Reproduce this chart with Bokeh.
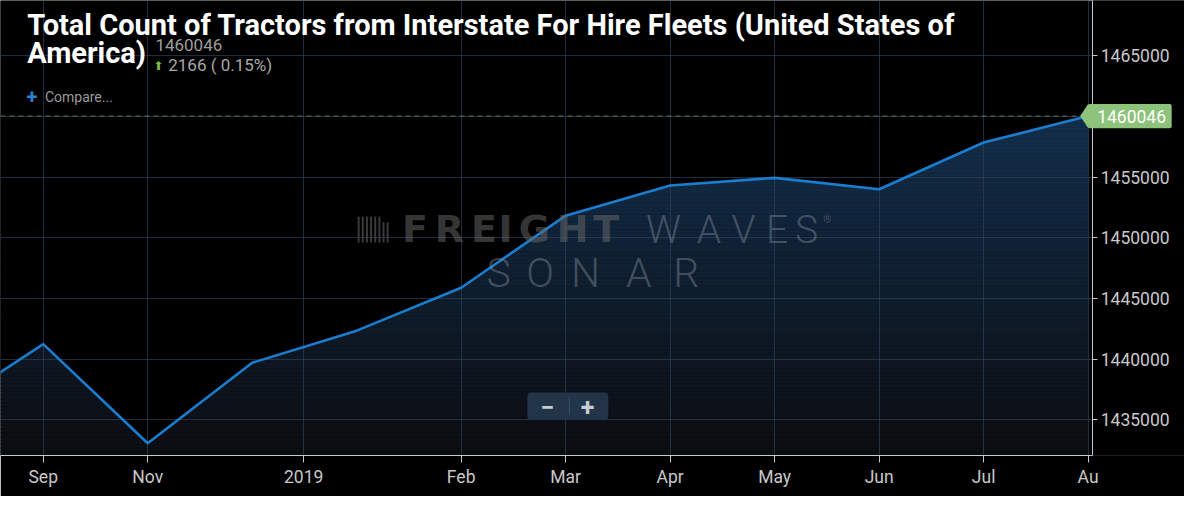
import numpy as np
from bokeh.plotting import figure
from bokeh.models import Range1d, FixedTicker, NumeralTickFormatter, Label, Span, BoxAnnotation
from bokeh.embed import file_html
from bokeh.resources import INLINE

# ---------------- data ----------------
point_pos = [-1, 0, 1, 2, 3, 4, 5, 6, 7, 8, 9, 10]
tractor_counts = [1435600, 1441250, 1433080, 1439710, 1442360, 1445900,
                  1451840, 1454330, 1454950, 1454010, 1457870, 1460046]
x_tick_pos = [0, 1, 2.493, 4, 5, 6, 7, 8, 9, 10]
x_tick_labels = ["Sep", "Nov", "2019", "Feb", "Mar", "Apr", "May", "Jun", "Jul", "Au"]
y_ticks = [1435000, 1440000, 1445000, 1450000, 1455000, 1460000, 1465000]
last_value = 1460046
change_abs = 2166
change_pct = "0.15%"
title_line1 = "Total Count of Tractors from Interstate For Hire Fleets (United States of"
title_line2 = "America)"

# ---------------- geometry (reference pixels -> figure pixels) ----------------
W, H = 1184, 496
FRAME_H = 455
SX = W / 1200.0
SY = FRAME_H / 470.0

def fx(rx):
    return rx * SX

def fy(ry):
    return (470 - ry) * SY

def ref_to_idx(rx):
    return (rx - 43.3) / 105.9

p = figure(width=W, height=H,
           x_range=Range1d(ref_to_idx(0), ref_to_idx(1200)),
           y_range=Range1d(1432070, 1469572),
           y_axis_location="right", output_backend="svg", toolbar_location=None,
           min_border_left=0, min_border_top=0, min_border_right=0, min_border_bottom=H - FRAME_H,
           background_fill_color="black", border_fill_color="black",
           outline_line_color=None)

# gradient fill under the line (bands, then a black mask above the line)
ymax = max(tractor_counts)
y0 = p.y_range.start
nb = 90
edges = np.linspace(y0, ymax, nb + 1)
c_top = np.array([19, 47, 76])
c_bot = np.array([12, 13, 17])
cols = []
for i in range(nb):
    t = (0.5 * (edges[i] + edges[i + 1]) - y0) / (ymax - y0)
    c = c_bot + t * (c_top - c_bot)
    cols.append("#%02x%02x%02x" % tuple(int(round(v)) for v in c))
bands = p.quad(left=point_pos[0], right=point_pos[-1], bottom=edges[:-1], top=edges[1:],
               fill_color=cols, line_color=cols, line_width=0.6)
bands.level = "image"
mask = p.varea(x=point_pos, y1=tractor_counts, y2=[p.y_range.end] * len(point_pos),
               fill_color="black")
mask.level = "image"

p.line(point_pos, tractor_counts, line_color="#1a7dcf", line_width=2.6)

# grids
for g in (p.xgrid, p.ygrid):
    g.grid_line_color = "#2c4058"
    g.grid_line_alpha = 0.7
    g.grid_line_width = 1

# dashed last-value line
span = Span(location=last_value, dimension="width", line_color="#587d58",
            line_dash="5 4", line_width=1)
span.level = "underlay"
p.add_layout(span)

# black strip right of the plot area (where the axis labels live)
cover = BoxAnnotation(left=fx(1107.5), right=W + 10, top=FRAME_H + 10, bottom=-10,
                      left_units="screen", right_units="screen",
                      top_units="screen", bottom_units="screen",
                      fill_color="black", fill_alpha=1.0, line_color=None)
cover.level = "underlay"
p.add_layout(cover)

# axes
p.xaxis.ticker = FixedTicker(ticks=x_tick_pos)
p.xaxis.major_label_overrides = {k: v for k, v in zip(x_tick_pos, x_tick_labels)}
p.xaxis.bounds = (ref_to_idx(0), ref_to_idx(1107))
p.yaxis.ticker = FixedTicker(ticks=y_ticks)
p.yaxis.formatter = NumeralTickFormatter(format="0")
p.yaxis.fixed_location = ref_to_idx(1107)
for ax in (p.xaxis[0], p.yaxis[0]):
    ax.axis_line_color = "#c8c8c8"
    ax.major_tick_line_color = "#c8c8c8"
    ax.minor_tick_line_color = None
    ax.major_tick_in = 0
    ax.major_label_text_font = "Roboto"
    ax.major_label_text_font_size = "17.5px"
    ax.major_label_text_color = "#c8c8c8"
p.xaxis.major_tick_out = 7
p.xaxis.major_label_standoff = 4
p.yaxis.major_tick_out = 5
p.yaxis.major_label_standoff = 3

# ---------------- overlay helpers ----------------
def lab(text, rx, ry, size, color, font="Roboto", style="normal", align="left",
        alpha=1.0):
    p.add_layout(Label(x=fx(rx), y=fy(ry), x_units="screen", y_units="screen",
                       text=text, text_font=font, text_font_size=size,
                       text_font_style=style, text_color=color, text_alpha=alpha,
                       text_align=align, text_baseline="middle"))

def box(l, r, t, b, color, alpha=1.0, radius=0):
    p.add_layout(BoxAnnotation(left=fx(l), right=fx(r), top=fy(t), bottom=fy(b),
                               left_units="screen", right_units="screen",
                               top_units="screen", bottom_units="screen",
                               fill_color=color, fill_alpha=alpha, line_color=None,
                               border_radius=radius))

# last value marker
GREEN = "#8dc37b"
p.scatter(x=[point_pos[-1]], y=[last_value], marker="diamond", size=24,
          fill_color=GREEN, line_color=None)
box(1102, 1187, 107, 132, GREEN, radius=2)
lab(str(last_value), 1111.5, 119.5, "17.5px", "white")

# watermark
for i in range(8):
    bx = 362 + i * 4.2
    box(bx, bx + 2, 223 if i < 6 else 229, 250, "#3a3a3a")
freight_cx = [420, 455, 490, 512, 541, 580, 614]
for ch, cx in zip("FREIGHT", freight_cx):
    lab(ch, cx, 236, "38px", "#6a6a6a", font="DejaVu Sans", style="bold",
        align="center", alpha=0.52)
waves_cx = [672, 718, 753, 787, 817]
for ch, cx in zip("WAVES", waves_cx):
    lab(ch, cx, 237, "39px", "#8a95a3", font="Roboto Light", align="center", alpha=0.42)
lab("®", 834, 226, "10px", "#8a95a3", alpha=0.42)
sonar_cx = [505, 547, 593, 647, 695]
for ch, cx in zip("SONAR", sonar_cx):
    lab(ch, cx, 281, "41px", "#8a95a3", font="Roboto Light", align="center", alpha=0.42)

# title block
lab(title_line1, 27, 25.5, "29px", "white", font="Roboto", style="bold")
lab(title_line2, 27, 54.5, "29px", "white", font="Roboto", style="bold")
lab(str(last_value), 157, 45.5, "17px", "#9e9e9e")
lab("\u2b06", 160, 68, "12px", "#7cbf4a", font="DejaVu Sans", align="center")
lab(f"{change_abs} ( {change_pct})", 170, 67, "17px", "#a8a8a8")
lab("+", 32, 99, "20px", "#2a80d2", style="bold", align="center")
lab("Compare...", 45, 99.5, "14px", "#9a9a9a")

# zoom buttons
box(534, 616, 405, 433, "#213448", radius=4)
box(576, 577, 410, 428, "#3a5068")
lab("\u2212", 554, 419, "25px", "#c5ccd3", style="bold", align="center")
lab("+", 595, 419, "25px", "#c5ccd3", style="bold", align="center")

open("out.html", "w").write(file_html(p, INLINE))
